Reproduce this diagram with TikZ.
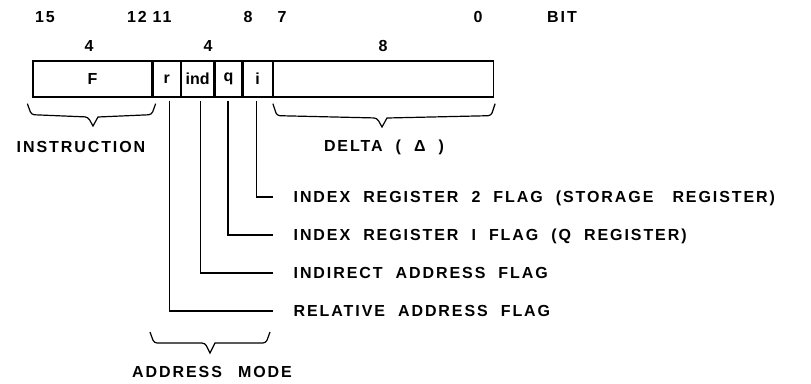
\documentclass[tikz,border=0pt]{standalone}
\usepackage{fontspec}
\setmainfont{Liberation Sans}
\newfontfamily\lettering[LetterSpace=12, WordSpace=2.05]{Liberation Sans Bold}
\newfontfamily\cellfont{Liberation Sans Bold}
\usepackage{tikz}
\usetikzlibrary{positioning,calc}

\begin{document}
\begin{tikzpicture}[x=1pt, y=-1pt, line width=1.3pt,
    cell/.style={draw, minimum height=36pt, inner sep=0pt, font=\fontsize{16}{16}\cellfont},
    lbl/.style={inner sep=0pt, text height=11.4pt, text depth=0pt, font=\fontsize{16}{16}\lettering},
    num/.style={lbl, anchor=center},
    brace/.style={line width=1.2pt, rounded corners=3pt}]
    \useasboundingbox (0,0) rectangle (811,383);

    % register word
    \node[cell, minimum width=119pt] (F) at (92.5,79) {F};
    \node[cell, minimum width=27pt, right=0pt of F] (r) {r};
    \node[cell, minimum width=32pt, right=0pt of r] (ind) {ind};
    \node[cell, minimum width=27pt, right=0pt of ind] (q) {q};
    \node[cell, minimum width=29pt, right=0pt of q] (i) {i};
    \node[cell, minimum width=220pt, right=0pt of i] (dl) {};

    % bit numbers
    \node[num] (b15) at (45,17) {15};
    \node[num] (b12) at (137,17) {12};
    \node[num] (b11) at (162,17) {11};
    \node[num] (b8) at (248,17) {8};
    \node[num] (b7) at (282,17) {7};
    \node[num] (b0) at (478,17) {0};
    \node[num] (bit) at (562,17) {BIT};

    % field widths
    \node[num] (wF) at (89,46) {4};
    \node[num] (wM) at (208,46) {4};
    \node[num] (wD) at (383,46) {8};

    % braces
    \draw[brace] ($(F.south west)+(-5,6)$) -- ($(F.south west)+(-1,17)$) -- (88,117)
        [sharp corners] -- (93,126) -- (98,117) [rounded corners=3pt]
        -- ($(F.south east)+(-1,17)$) -- ($(F.south east)+(3,6)$);
    \draw[brace] ($(dl.south west)+(0,6)$) -- ($(dl.south west)+(4,18)$) -- (377,118)
        [sharp corners] -- (382,127) -- (387,118) [rounded corners=3pt]
        -- ($(dl.south east)+(-3,18)$) -- ($(dl.south east)+(1,6)$);
    \node[num] (instr) at (81,147) {INSTRUCTION};
    \node[num] (delta) at (384,146) {DELTA ( Δ )};

    % flag labels
    \node[lbl, anchor=west] (lbi) at (293,197) {INDEX REGISTER 2 FLAG (STORAGE \hspace{6pt}REGISTER)};
    \node[lbl, anchor=west] (lbq) at (293,235) {INDEX REGISTER I FLAG (Q REGISTER)};
    \node[lbl, anchor=west] (lbind) at (293,273) {INDIRECT ADDRESS FLAG};
    \node[lbl, anchor=west] (lbr) at (293,311) {RELATIVE ADDRESS FLAG};

    \draw ([xshift=-1pt, yshift=-3pt]i.south) |- ([xshift=-20pt]lbi.west);
    \draw ([xshift=-0.5pt, yshift=-3pt]q.south) |- ([xshift=-20pt]lbq.west);
    \draw ([xshift=3pt, yshift=-3pt]ind.south) |- ([xshift=-20pt]lbind.west);
    \draw ([xshift=2.5pt, yshift=-3pt]r.south) |- ([xshift=-20pt]lbr.west);

    % address mode
    \draw[brace] (150,332) -- (154,343) -- (205,343)
        [sharp corners] -- (210,353) -- (215,343) [rounded corners=3pt]
        -- (266,343) -- (270,332);
    \node[num] (amode) at (212,372) {ADDRESS \hspace{3pt}MODE};
\end{tikzpicture}
\end{document}
